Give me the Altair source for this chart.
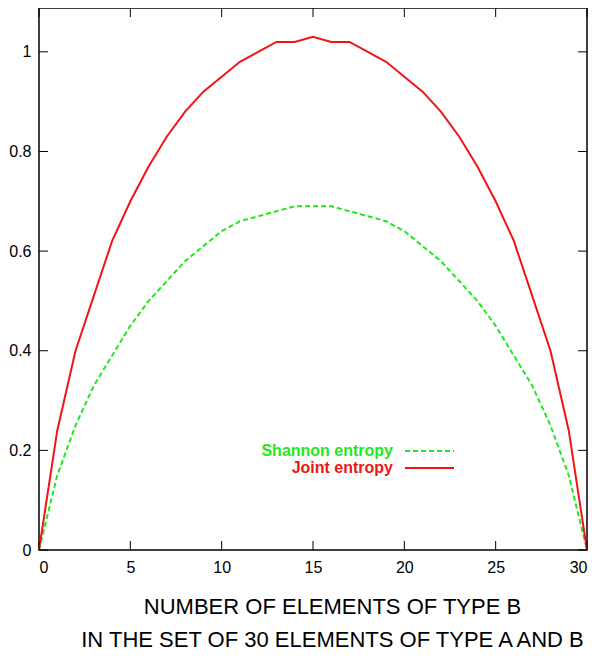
import altair as alt
import pandas as pd

# x: number of elements of type B
n_b = [0, 1, 2, 3, 4, 5, 6, 7, 8, 9, 10, 11, 12, 13, 14, 15,
       16, 17, 18, 19, 20, 21, 22, 23, 24, 25, 26, 27, 28, 29, 30]
shannon = [0, 0.15, 0.25, 0.33, 0.39, 0.45, 0.50, 0.54, 0.58, 0.61, 0.64,
           0.66, 0.67, 0.68, 0.69, 0.69, 0.69, 0.68, 0.67, 0.66, 0.64,
           0.61, 0.58, 0.54, 0.50, 0.45, 0.39, 0.33, 0.25, 0.15, 0]
joint = [0, 0.24, 0.40, 0.51, 0.62, 0.70, 0.77, 0.83, 0.88, 0.92, 0.95,
         0.98, 1.00, 1.02, 1.02, 1.03, 1.02, 1.02, 1.00, 0.98, 0.95,
         0.92, 0.88, 0.83, 0.77, 0.70, 0.62, 0.51, 0.40, 0.24, 0]
x_ticks = [0, 5, 10, 15, 20, 25, 30]
y_ticks = [0, 0.2, 0.4, 0.6, 0.8, 1.0]
x_title = ["NUMBER OF ELEMENTS OF TYPE B",
           "IN THE SET OF 30 ELEMENTS OF TYPE A AND B"]
legend_labels = ["Shannon entropy", "Joint entropy"]

GREEN = "#1ee81e"
RED = "#f21414"
FONT = "Liberation Sans"
W, H = 548, 542

df = pd.DataFrame({"n": n_b, "shannon": shannon, "joint": joint})
xt = pd.DataFrame({"t": x_ticks})
yt = pd.DataFrame({"t": y_ticks})

xscale = alt.Scale(domain=[0, 30], nice=False, zero=False)
yscale = alt.Scale(domain=[0, 1.088], nice=False, zero=False)

xaxis = alt.Axis(values=x_ticks, format="d", grid=False, ticks=False, tickSize=0,
                 domain=False, labelFont=FONT, labelFontSize=16, labelColor="black",
                 labelPadding=9, title=x_title, titleFont=FONT, titleFontSize=22,
                 titleFontWeight="normal", titleColor="black", titleX=293, titleY=63,
                 titleAlign="center", titleBaseline="alphabetic", titleLineHeight=33)
yaxis = alt.Axis(values=y_ticks, format="~g", grid=False, ticks=False, tickSize=0,
                 domain=False, labelFont=FONT, labelFontSize=16, labelColor="black",
                 labelPadding=8, title=None)

green_line = alt.Chart(df).mark_line(color=GREEN, strokeWidth=2, strokeDash=[5, 3]).encode(
    x=alt.X("n:Q", scale=xscale, axis=xaxis),
    y=alt.Y("shannon:Q", scale=yscale, axis=yaxis),
)
red_line = alt.Chart(df).mark_line(color=RED, strokeWidth=2).encode(
    x=alt.X("n:Q", scale=xscale),
    y=alt.Y("joint:Q", scale=yscale),
)

tick_style = dict(color="black", strokeWidth=1)
bottom_ticks = alt.Chart(xt).mark_rule(**tick_style).encode(
    x=alt.X("t:Q", scale=xscale), y=alt.value(H), y2=alt.value(H - 9))
top_ticks = alt.Chart(xt).mark_rule(**tick_style).encode(
    x=alt.X("t:Q", scale=xscale), y=alt.value(0), y2=alt.value(9))
left_ticks = alt.Chart(yt).mark_rule(**tick_style).encode(
    y=alt.Y("t:Q", scale=yscale), x=alt.value(0), x2=alt.value(9))
right_ticks = alt.Chart(yt).mark_rule(**tick_style).encode(
    y=alt.Y("t:Q", scale=yscale), x=alt.value(W), x2=alt.value(W - 9))

leg_green_text = alt.Chart(pd.DataFrame({"label": [legend_labels[0]]})).mark_text(
    align="right", baseline="middle", font=FONT, fontSize=16, fontWeight="bold",
    color=GREEN).encode(text="label:N", x=alt.value(354), y=alt.value(443))
leg_red_text = alt.Chart(pd.DataFrame({"label": [legend_labels[1]]})).mark_text(
    align="right", baseline="middle", font=FONT, fontSize=16, fontWeight="bold",
    color=RED).encode(text="label:N", x=alt.value(354), y=alt.value(460))
leg_green_line = alt.Chart(pd.DataFrame({"label": [legend_labels[0]]})).mark_rule(
    color=GREEN, strokeWidth=2, strokeDash=[5, 3]).encode(
    x=alt.value(366), x2=alt.value(415), y=alt.value(443))
leg_red_line = alt.Chart(pd.DataFrame({"label": [legend_labels[1]]})).mark_rule(
    color=RED, strokeWidth=2).encode(
    x=alt.value(366), x2=alt.value(415), y=alt.value(460))

chart = alt.layer(
    green_line, red_line, bottom_ticks, top_ticks, left_ticks, right_ticks,
    leg_green_line, leg_red_line, leg_green_text, leg_red_text,
).properties(
    width=W, height=H,
    autosize=alt.AutoSizeParams(type="none"),
    padding={"left": 31, "top": 0, "right": 5, "bottom": 102},
    background="white",
).configure_view(stroke="black", strokeWidth=1.5)

chart.save("out.html", embed_options={"renderer": "svg", "actions": False})
